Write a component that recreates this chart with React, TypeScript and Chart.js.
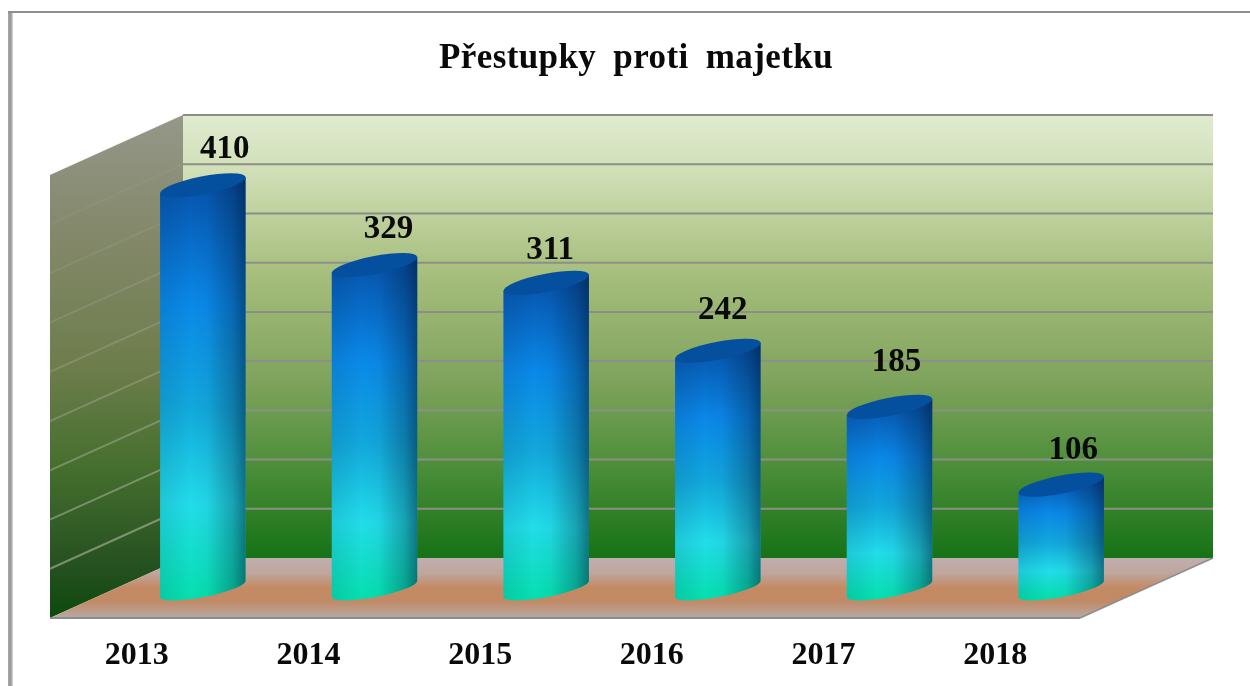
import React, { useEffect, useRef } from "react";
import { Chart, registerables } from "chart.js";

Chart.register(...registerables);

const years = ["2013", "2014", "2015", "2016", "2017", "2018"];
const offences = [410, 329, 311, 242, 185, 106];
const chartTitle = "Přestupky proti majetku";
const labelShiftX = [22, 14, 4, 5, 7, 12];
const labelShiftY = [-36, -36, -32, -40, -44, -34];

const FONT = '"Liberation Serif", "Times New Roman", serif';
const DEPTH_X = 133;
const DEPTH_Y = 60;
const BAR_DX = 67;
const BAR_DY = 29;
const TILT = (-11 * Math.PI) / 180;
const MINOR = 8;

const scenePlugin = {
  id: "scene",
  afterLayout(chart: any) {
    const tb = chart.titleBlock;
    if (tb) {
      tb.left = 22;
      tb.right = 1250;
      if (!tb.__spaced) {
        tb.__spaced = true;
        const orig = tb.draw;
        tb.draw = function () {
          const c = chart.ctx;
          c.save();
          c.letterSpacing = "0.4px";
          c.wordSpacing = "8px";
          orig.call(tb);
          c.restore();
        };
      }
    }
  },
  beforeDraw(chart: any) {
    const { ctx, width, height } = chart;
    ctx.save();
    ctx.fillStyle = "#ffffff";
    ctx.fillRect(0, 0, width, height);
    const lg = ctx.createLinearGradient(8, 0, 13, 0);
    lg.addColorStop(0, "#a6a6a6");
    lg.addColorStop(0.6, "#999999");
    lg.addColorStop(1, "#e2e2e2");
    ctx.fillStyle = lg;
    ctx.fillRect(8, 11, 5, height - 11);
    ctx.fillStyle = "#8f8f8f";
    ctx.fillRect(8, 11, width - 8, 2);
    ctx.restore();
  },
  beforeDatasetsDraw(chart: any) {
    const { ctx, chartArea: a } = chart;
    const y = chart.scales.y;
    const L = a.left, R = a.right, T = a.top, B = a.bottom;
    ctx.save();

    // back wall
    const back = ctx.createLinearGradient(0, T - DEPTH_Y, 0, B - DEPTH_Y);
    back.addColorStop(0, "#e0ebd0");
    back.addColorStop(0.12, "#d2e0b8");
    back.addColorStop(0.35, "#a8bf7e");
    back.addColorStop(0.6, "#7fa35c");
    back.addColorStop(0.8, "#4a8d38");
    back.addColorStop(1, "#167216");
    ctx.fillStyle = back;
    ctx.fillRect(L + DEPTH_X, T - DEPTH_Y, R - L, B - T);

    // left wall
    const wall = ctx.createLinearGradient(0, T - DEPTH_Y, 0, B);
    wall.addColorStop(0, "#95988a");
    wall.addColorStop(0.2, "#868a6f");
    wall.addColorStop(0.5, "#6e7d4c");
    wall.addColorStop(0.7, "#456f2e");
    wall.addColorStop(0.9, "#255020");
    wall.addColorStop(1, "#0c4a0c");
    ctx.fillStyle = wall;
    ctx.beginPath();
    ctx.moveTo(L, T);
    ctx.lineTo(L + DEPTH_X, T - DEPTH_Y);
    ctx.lineTo(L + DEPTH_X, B - DEPTH_Y);
    ctx.lineTo(L, B);
    ctx.closePath();
    ctx.fill();

    // floor
    const floor = ctx.createLinearGradient(0, B - DEPTH_Y, 0, B);
    floor.addColorStop(0, "#c2aeb0");
    floor.addColorStop(0.25, "#bfa69e");
    floor.addColorStop(0.5, "#c48a62");
    floor.addColorStop(0.72, "#c18a66");
    floor.addColorStop(1, "#b6aaa4");
    ctx.fillStyle = floor;
    ctx.beginPath();
    ctx.moveTo(L, B);
    ctx.lineTo(L + DEPTH_X, B - DEPTH_Y);
    ctx.lineTo(R + DEPTH_X, B - DEPTH_Y);
    ctx.lineTo(R, B);
    ctx.closePath();
    ctx.fill();

    // grid lines, from the value axis ticks
    y.ticks.forEach((t: any) => {
      const py = y.getPixelForValue(t.value);
      if (t.value > 0) {
        ctx.strokeStyle = "#8c8f88";
        ctx.lineWidth = 2;
        ctx.beginPath();
        ctx.moveTo(L + DEPTH_X, py - DEPTH_Y);
        ctx.lineTo(R + DEPTH_X, py - DEPTH_Y);
        ctx.stroke();
        const alpha = 0.75 - (t.value / y.max) * 0.68;
        ctx.strokeStyle = `rgba(165,172,150,${alpha})`;
        ctx.lineWidth = 2;
        ctx.beginPath();
        ctx.moveTo(L, py);
        ctx.lineTo(L + DEPTH_X, py - DEPTH_Y);
        ctx.stroke();
      }
    });

    // floor edges
    ctx.strokeStyle = "#8d8d8d";
    ctx.lineWidth = 2;
    ctx.beginPath();
    ctx.moveTo(L, B);
    ctx.lineTo(R, B);
    ctx.stroke();
    ctx.lineWidth = 1.5;
    ctx.beginPath();
    ctx.moveTo(R, B);
    ctx.lineTo(R + DEPTH_X, B - DEPTH_Y);
    ctx.stroke();
    ctx.restore();
  },
  afterDatasetsDraw(chart: any) {
    const { ctx } = chart;
    const meta = chart.getDatasetMeta(0);
    meta.data.forEach((bar: any, i: number) => {
      const major = bar.width / 2 + 0.6;
      const cx = bar.x + BAR_DX;
      const topY = bar.y - BAR_DY;
      const baseY = bar.base - BAR_DY;
      const s = Math.sin(TILT), c = Math.cos(TILT);
      const t0 = Math.atan2(-MINOR * s, major * c);
      const ex = major * Math.cos(t0) * c - MINOR * Math.sin(t0) * s;
      const ey = major * Math.cos(t0) * s + MINOR * Math.sin(t0) * c;

      ctx.save();
      ctx.beginPath();
      ctx.ellipse(cx, baseY, major, MINOR, TILT, t0, t0 + Math.PI, false);
      ctx.lineTo(cx - ex, topY - ey);
      ctx.lineTo(cx + ex, topY + ey);
      ctx.closePath();
      const v = ctx.createLinearGradient(0, topY - 8, 0, baseY + 8);
      v.addColorStop(0, "#0650a8");
      v.addColorStop(0.3, "#0a88e8");
      v.addColorStop(0.55, "#12a8dc");
      v.addColorStop(0.78, "#22dcea");
      v.addColorStop(1, "#06dfb0");
      ctx.fillStyle = v;
      ctx.fill();
      ctx.clip();
      const h = ctx.createLinearGradient(cx - ex, 0, cx + ex, 0);
      h.addColorStop(0, "rgba(0,30,60,0.1)");
      h.addColorStop(0.35, "rgba(0,0,0,0)");
      h.addColorStop(0.55, "rgba(0,10,30,0.03)");
      h.addColorStop(0.85, "rgba(0,15,40,0.28)");
      h.addColorStop(1, "rgba(0,15,40,0.5)");
      ctx.fillStyle = h;
      ctx.fillRect(cx - ex - 2, topY - 20, ex * 2 + 4, baseY - topY + 40);
      ctx.restore();

      ctx.save();
      ctx.fillStyle = "#04509f";
      ctx.beginPath();
      ctx.ellipse(cx, topY, major, MINOR + 1, TILT, 0, Math.PI * 2);
      ctx.fill();
      ctx.restore();

      ctx.save();
      ctx.fillStyle = "#0a0a0a";
      ctx.font = `bold 33px ${FONT}`;
      ctx.textAlign = "center";
      ctx.textBaseline = "middle";
      ctx.fillText(
        String(offences[i]),
        cx + labelShiftX[i],
        topY + labelShiftY[i]
      );
      ctx.restore();
    });
  },
};

export default function App() {
  const ref = useRef<HTMLCanvasElement | null>(null);
  useEffect(() => {
    if (!ref.current) return;
    const chart = new Chart(ref.current, {
      type: "bar",
      data: {
        labels: years,
        datasets: [
          {
            label: chartTitle,
            data: offences,
            backgroundColor: "rgba(0,0,0,0)",
            barPercentage: 0.5,
            categoryPercentage: 1,
          },
        ],
      },
      options: {
        responsive: false,
        animation: false,
        layout: { padding: { left: 50, right: 170, bottom: 0, top: 0 } },
        plugins: {
          legend: { display: false },
          tooltip: { enabled: false },
          title: {
            display: true,
            text: chartTitle,
            color: "#0a0a0a",
            font: { family: FONT, size: 35, weight: "bold", lineHeight: 1.2 },
            padding: { top: 38, bottom: 95 },
          },
        },
        scales: {
          x: {
            grid: { display: false },
            border: { display: false },
            afterFit(scale: any) {
              scale.height = 68;
            },
            ticks: {
              color: "#0a0a0a",
              font: { family: FONT, size: 32, weight: "bold", lineHeight: 1.2 },
              padding: 11,
              labelOffset: 1,
              maxRotation: 0,
            },
          },
          y: {
            display: true,
            min: 0,
            max: 450,
            grid: { display: false },
            border: { display: false },
            afterFit(scale: any) {
              scale.width = 0;
            },
            ticks: { stepSize: 50, display: false },
          },
        },
      },
      plugins: [scenePlugin],
    } as any);
    return () => chart.destroy();
  }, []);
  return (
    <div style={{ position: "absolute", left: 0, top: 0, width: 1250, height: 686 }}>
      <canvas ref={ref} width={1250} height={686} style={{ display: "block" }} />
    </div>
  );
}
